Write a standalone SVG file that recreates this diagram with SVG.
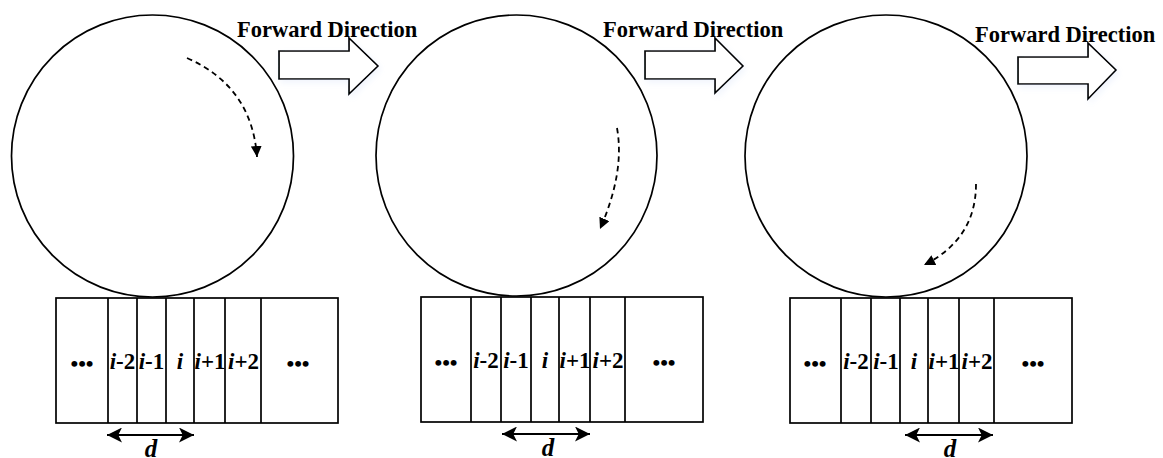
<svg xmlns="http://www.w3.org/2000/svg" width="1163" height="458" viewBox="0 0 1163 458">
<style>
.wheel{fill:none;stroke:#000;stroke-width:1.7}
.cell{fill:none;stroke:#000;stroke-width:1.7}
.dash{fill:none;stroke:#000;stroke-width:1.8;stroke-dasharray:5.5 4}
.dbl{fill:none;stroke:#000;stroke-width:1.8}
.blk{fill:#fff;stroke:#000;stroke-width:1.7}
.title{font-family:"Liberation Serif","Times New Roman",serif;font-weight:bold;font-size:22.5px;fill:#000}
.lbl{font-family:"Liberation Serif","Times New Roman",serif;font-weight:bold;font-size:23px;fill:#000;text-anchor:middle}
.dots{font-family:"Liberation Serif","Times New Roman",serif;font-weight:bold;font-size:22px;fill:#000;text-anchor:middle}
.dl{font-family:"Liberation Serif","Times New Roman",serif;font-weight:bold;font-style:italic;font-size:25px;fill:#000;text-anchor:middle}
.it{font-style:italic}
</style>
<defs>
<marker id="ah" viewBox="0 0 10 10" refX="10" refY="5" markerWidth="11" markerHeight="11" markerUnits="userSpaceOnUse" orient="auto">
<path d="M0,0 L10,5 L0,10 Z" fill="#000"/>
</marker>
<marker id="dh" viewBox="0 0 12 12" refX="12" refY="6" markerWidth="15" markerHeight="15" markerUnits="userSpaceOnUse" orient="auto-start-reverse">
<path d="M0,0 L12,6 L0,12 L3,6 Z" fill="#000"/>
</marker>
<filter id="glow" x="-20%" y="-30%" width="140%" height="160%">
<feGaussianBlur in="SourceAlpha" stdDeviation="3"/>
<feOffset dx="2" dy="3"/>
<feComponentTransfer><feFuncA type="linear" slope="0.25"/></feComponentTransfer>
<feColorMatrix type="matrix" values="0 0 0 0 0.55  0 0 0 0 0.65  0 0 0 0 0.9  0 0 0 1 0" result="sh"/>
<feMerge><feMergeNode in="sh"/><feMergeNode in="SourceGraphic"/></feMerge>
</filter>
</defs>

<g id="panel1">
<circle class="wheel" cx="152.5" cy="156" r="141"/>
<polygon class="blk" filter="url(#glow)" points="279,51 349,51 349,38 378,66 349,94 349,79 279,79"/>
<text class="title" x="237" y="37">Forward Direction</text>
<rect class="cell" x="56" y="298" width="282" height="125"/>
<path class="cell" d="M108,298V423M137,298V423M166,298V423M194,298V423M225,298V423M261,298V423"/>
<text class="dots" x="82" y="371">•••</text>
<text class="lbl" x="122.5" y="369"><tspan class="it">i</tspan>-2</text>
<text class="lbl" x="151.5" y="369"><tspan class="it">i</tspan>-1</text>
<text class="lbl" x="180" y="369"><tspan class="it">i</tspan></text>
<text class="lbl" x="210" y="369"><tspan class="it">i</tspan>+1</text>
<text class="lbl" x="243.5" y="369"><tspan class="it">i</tspan>+2</text>
<text class="dots" x="298" y="371">•••</text>
</g>

<g id="panel2">
<circle class="wheel" cx="516.5" cy="155.5" r="140.5"/>
<polygon class="blk" filter="url(#glow)" points="645,51 715,51 715,38 743,66 715,93 715,79 645,79"/>
<text class="title" x="603" y="37">Forward Direction</text>
<rect class="cell" x="421" y="297" width="282" height="125"/>
<path class="cell" d="M471,297V422M501,297V422M531,297V422M559,297V422M590,297V422M625,297V422"/>
<text class="dots" x="446" y="370">•••</text>
<text class="lbl" x="486" y="368"><tspan class="it">i</tspan>-2</text>
<text class="lbl" x="516" y="368"><tspan class="it">i</tspan>-1</text>
<text class="lbl" x="545" y="368"><tspan class="it">i</tspan></text>
<text class="lbl" x="575" y="368"><tspan class="it">i</tspan>+1</text>
<text class="lbl" x="608" y="368"><tspan class="it">i</tspan>+2</text>
<text class="dots" x="664" y="370">•••</text>
</g>

<g id="panel3">
<circle class="wheel" cx="886" cy="156" r="141"/>
<polygon class="blk" filter="url(#glow)" points="1018,57 1088,57 1088,43 1116,70 1088,99 1088,84 1018,84"/>
<text class="title" x="975" y="41.5">Forward Direction</text>
<rect class="cell" x="790" y="298" width="282" height="125"/>
<path class="cell" d="M841,298V423M871,298V423M900,298V423M928,298V423M959,298V423M994,298V423"/>
<text class="dots" x="815" y="371">•••</text>
<text class="lbl" x="856" y="369"><tspan class="it">i</tspan>-2</text>
<text class="lbl" x="886" y="369"><tspan class="it">i</tspan>-1</text>
<text class="lbl" x="914" y="369"><tspan class="it">i</tspan></text>
<text class="lbl" x="944" y="369"><tspan class="it">i</tspan>+1</text>
<text class="lbl" x="977" y="369"><tspan class="it">i</tspan>+2</text>
<text class="dots" x="1033" y="371">•••</text>
</g>

<g id="connectors">
<path class="dash" marker-end="url(#ah)" d="M187,58 Q252,86.5 257,157"/>
<path class="dash" marker-end="url(#ah)" d="M617,128 Q625,172 600,229"/>
<path class="dash" marker-end="url(#ah)" d="M976,184 Q976,239 924,265"/>
<path class="dbl" marker-start="url(#dh)" marker-end="url(#dh)" d="M107,435H194"/>
<path class="dbl" marker-start="url(#dh)" marker-end="url(#dh)" d="M502,434H590"/>
<path class="dbl" marker-start="url(#dh)" marker-end="url(#dh)" d="M905,435H993"/>
</g>

<g id="d-labels">
<text class="dl" x="151" y="457">d</text>
<text class="dl" x="548" y="456">d</text>
<text class="dl" x="950" y="457">d</text>
</g>
</svg>
